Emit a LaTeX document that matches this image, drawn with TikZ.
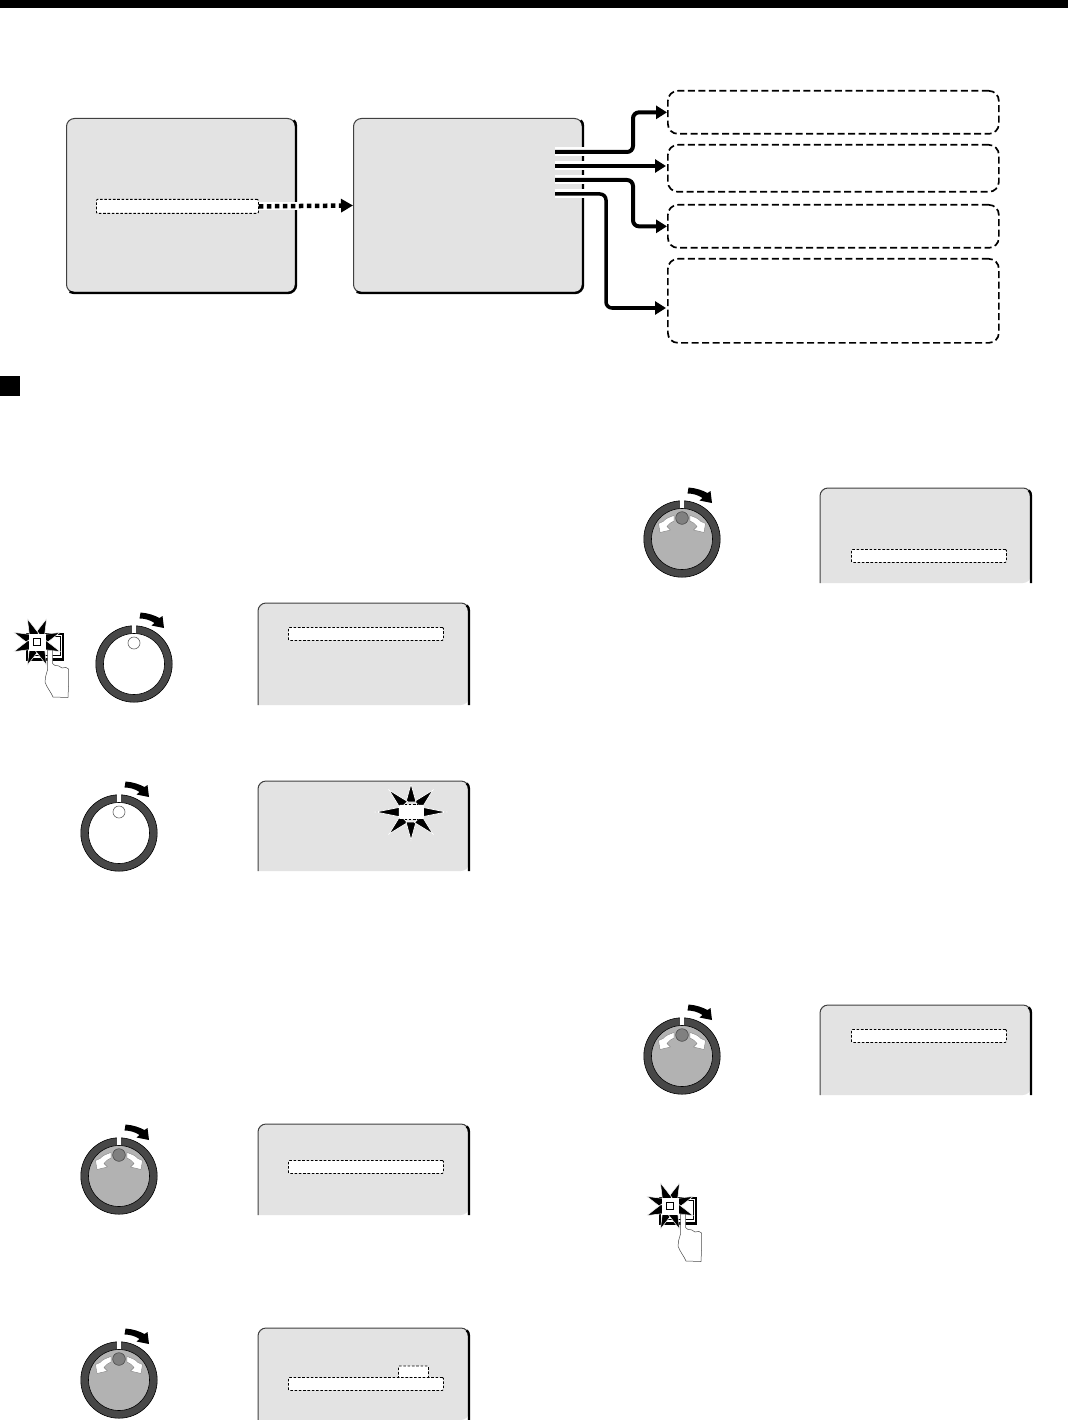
\documentclass[tikz,border=0pt]{standalone}
\usetikzlibrary{arrows.meta}
\definecolor{scrgray}{gray}{0.89}
\definecolor{knobgray}{gray}{0.7}
\definecolor{ringgray}{gray}{0.28}
\tikzset{
  screen/.style={draw=black!75,line width=1pt,fill=scrgray,rounded corners=8pt,anchor=north west,inner sep=0pt,minimum width=229pt,minimum height=174pt},
  hilite/.style={draw,fill=white,line width=0.8pt,dash pattern=on 2.6pt off 1.7pt,rounded corners=1pt,anchor=north west,inner sep=0pt,minimum width=155pt,minimum height=13pt},
  dashbox/.style={draw,line width=1.7pt,dash pattern=on 7pt off 3.5pt,rounded corners=10pt,fill=white,anchor=north west,inner sep=0pt,minimum width=331pt},
  flow/.style={line width=4pt,rounded corners=6pt,-{Triangle[length=11pt,width=13pt]}},
  halo/.style={line width=9pt,white},
}
% screen cut off at the bottom: left, top, bottom
\newcommand{\cutscreen}[3]{
  \fill[scrgray,rounded corners=8pt] (#1,#3) -- (#1,#2) -- (#1+211,#2) -- (#1+211,#3) [sharp corners] -- cycle;
  \draw[black!75,line width=1pt,rounded corners=8pt] (#1,#3) -- (#1,#2) -- (#1+211,#2) -- (#1+211,#2+20);
  \draw[line width=2.4pt] (#1+208.7,#2+2.3) .. controls (#1+210.1,#2+3.7) and (#1+211,#2+5.5) .. (#1+211,#2+8) -- (#1+211,#3);
}
% dark right and bottom edge of a whole screen
\newcommand{\thickedge}[1]{
  \draw[line width=2.4pt] ([xshift=-2.3pt,yshift=-2.3pt]#1.north east) .. controls ([xshift=-0.9pt,yshift=-3.7pt]#1.north east) and ([yshift=-5.5pt]#1.north east) .. ([yshift=-8pt]#1.north east);
  \draw[line width=2.4pt,rounded corners=8pt] ([yshift=-8pt]#1.north east) -- (#1.south east) -- ([xshift=8pt]#1.south west);
  \draw[line width=2.4pt] ([xshift=8pt]#1.south west) .. controls ([xshift=6.5pt]#1.south west) and ([xshift=5pt,yshift=0.3pt]#1.south west) .. ([xshift=3.5pt,yshift=1.2pt]#1.south west);
}
\newcommand{\dialbase}[1]{
  \filldraw[draw=black,fill=ringgray,line width=0.6pt] (0,0) circle (38.2);
  \filldraw[draw=black,fill=#1,line width=0.6pt] (0,0) circle (30.5);
  \fill[white] (-1.6,-38.8) rectangle (1.6,-30.8);
  \fill (6.5,-51.5) .. controls (14,-51) and (21,-48.5) .. (25.5,-46) -- (28.5,-48) -- (30,-36) -- (17.5,-38.5) -- (20.5,-41) .. controls (16,-44) and (11,-45.5) .. (5.5,-45.5) -- cycle;
}
\newcommand{\whitedial}[2]{
  \begin{scope}[shift={(#1,#2)}]
    \dialbase{white}
    \draw[black!60,line width=0.6pt] (0,-21) circle (6);
  \end{scope}
}
\newcommand{\graydial}[2]{
  \begin{scope}[shift={(#1,#2)}]
    \dialbase{knobgray}
    \filldraw[draw=black!70,fill=black!50,line width=0.6pt] (0,-21) circle (6.3);
    \foreach \s in {-1,1}
      \filldraw[xscale=\s,draw=black!50,fill=white,line width=0.4pt,line join=round] (-8,-23.5) .. controls (-13,-22) and (-17,-20) .. (-19,-17.5) -- (-23.5,-15.5) -- (-22,-6.5) -- (-11.5,-9) -- (-15,-12.5) .. controls (-13,-15) and (-11,-17) .. (-8,-18) -- cycle;
  \end{scope}
}
\newcommand{\pushbutton}[2]{
  \begin{scope}[shift={(#1,#2)}]
    \fill (-11,-9.5) rectangle (27,19);
    \fill[white] (-9,-7.5) rectangle (25,15.5);
    \draw[line width=0.9pt] (-7,-6) rectangle (23,13.5);
    \foreach \a in {22.5,67.5,...,337.5}
      \filldraw[rotate=\a,draw=white,fill=black,line width=0.5pt] (7,-5) -- (25,0) -- (7,5) -- cycle;
    \fill[white] (-8.5,-8.5) rectangle (8.5,8.5);
    \draw[line width=1pt] (-3.8,-3.8) rectangle (3.8,3.8);
    \filldraw[draw=black!70,fill=white,line width=0.5pt,line join=round] (10.5,8) -- (10.5,28) .. controls (9,33) and (8,36) .. (8,40) .. controls (10,46) and (14,50) .. (16,55) -- (31,55.5) .. controls (31.5,45) and (32,35) .. (31.5,27) .. controls (30,25) and (28,25) .. (25,26) .. controls (23,24) and (20,23) .. (18,23.5) -- (15.5,21.5) -- (15.5,8) -- cycle;
  \end{scope}
}
\begin{document}
\begin{tikzpicture}[x=1pt,y=-1pt]
  \useasboundingbox (0,0) rectangle (1068,1420);
  \fill (0,0) rectangle (1068,8);
  \fill (0,376) rectangle (20,396);

  \node[screen] (scrA) at (66,118) {};
  \thickedge{scrA}
  \node[screen] (scrB) at (353,118) {};
  \thickedge{scrB}
  \node[hilite,minimum width=162pt,minimum height=14pt] (barA) at (96,199) {};

  \node[dashbox,minimum height=43pt] (boxA) at (667,90) {};
  \node[dashbox,minimum height=47pt] (boxB) at (667,144) {};
  \node[dashbox,minimum height=43pt] (boxC) at (667,204) {};
  \node[dashbox,minimum height=84pt] (boxD) at (667,258) {};

  \coordinate (outA) at (555,152);
  \coordinate (outB) at (555,166);
  \coordinate (outC) at (555,180);
  \coordinate (outD) at (555,194);
  \coordinate (inB) at (666,166);
  \coordinate (inD) at (666,308);
  \draw[halo] (555,152) -- (585,152) (555,166) -- (585,166) (555,180) -- (585,180) (555,194) -- (585,194);
  \draw[flow] (outA) -- ++(78,0) |- (boxA.west);
  \draw[flow] (outB) -- (inB);
  \draw[flow] (outC) -- ++(78,0) |- (boxC.west);
  \draw[flow,line width=3.5pt] (outD) -- ++(51,0) |- (inD);

  \draw[white,line width=8pt] (barA.east) -- ++(70,0);
  \draw[line width=4.5pt,dash pattern=on 4.5pt off 3.5pt,-{Triangle[length=12pt,width=13pt]}] (barA.east) -- (scrB.west);

  % left column
  \pushbutton{37}{642}
  \whitedial{134}{664}
  \cutscreen{258}{603}{705}
  \node[hilite] (barC) at (288,627) {};

  \whitedial{119}{833}
  \cutscreen{258}{781}{871}
  \foreach \a/\r in {0/35,45/31,90/28,135/31,180/35,225/31,270/28,315/31}
    \filldraw[rotate around={\a:(411,812)},draw=white,fill=black,line width=0.7pt] (421,807) -- (411+\r,812) -- (421,817) -- cycle;
  \node[hilite,draw=none,minimum width=25pt,minimum height=14pt] (barD) at (398.5,804.5) {};
  \draw[line width=0.8pt,dash pattern=on 2.6pt off 1.7pt] (barD.north west) ++(6,0) -- ++(13,0) (barD.south west) ++(6,0) -- ++(13,0);

  \graydial{119}{1176}
  \cutscreen{258}{1124}{1215}
  \node[hilite] (barE) at (288,1160) {};

  \graydial{119}{1380}
  \cutscreen{258}{1328}{1420}
  \node[hilite,minimum width=30pt,minimum height=12pt] (barG) at (398,1365.5) {};
  \node[hilite] (barF) at (288,1377) {};

  % right column
  \graydial{682}{539}
  \cutscreen{820}{488}{583}
  \node[hilite] (barH) at (851,549) {};

  \graydial{682}{1056}
  \cutscreen{820}{1005}{1095}
  \node[hilite] (barI) at (851,1029) {};

  \pushbutton{670}{1206}
\end{tikzpicture}
\end{document}
